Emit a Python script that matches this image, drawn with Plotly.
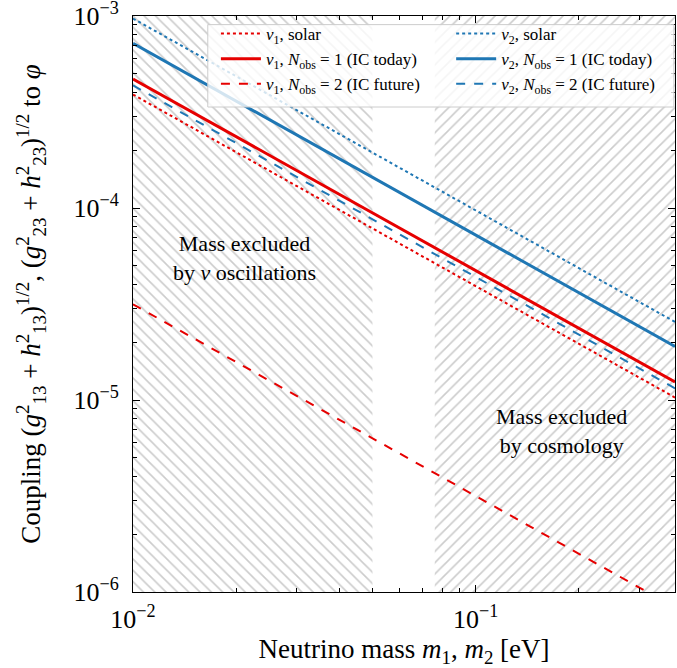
import plotly.graph_objects as go

# Data (log-log straight lines: values at the axis ends)
mass_ends = [0.01, 0.382]
nu1_solar = [3.9e-4, 1.03e-5]
nu1_ic_today = [4.7e-4, 1.24e-5]
nu1_ic_future = [3.15e-5, 8.3e-7]
nu2_solar = [9.7e-4, 2.55e-5]
nu2_ic_today = [7.2e-4, 1.9e-5]
nu2_ic_future = [4.35e-4, 1.15e-5]

# excluded regions
osc_region = [0.01, 0.05]
cosmo_region = [0.076, 0.382]
y_limits = [1e-6, 1e-3]

RED = "#e60000"
BLUE = "#1f77b4"
FONT = "Liberation Serif"

fig = go.Figure()

def hatch(xr, shape):
    fig.add_trace(go.Scatter(
        x=[xr[0], xr[1], xr[1], xr[0], xr[0]],
        y=[y_limits[0], y_limits[0], y_limits[1], y_limits[1], y_limits[0]],
        mode="lines", line=dict(width=0), fill="toself",
        fillcolor="rgba(0,0,0,0)",
        fillpattern=dict(shape=shape, fgcolor="#999999", bgcolor="white",
                         size=8, solidity=0.2),
        showlegend=False, hoverinfo="skip"))

hatch(osc_region, "\\")
hatch(cosmo_region, "/")

series = [
    ("<i>ν</i><sub>1</sub>, solar", nu1_solar, RED, "dot", 2, "legend"),
    ("<i>ν</i><sub>1</sub>, <i>N</i><sub>obs</sub> = 1 (IC today)", nu1_ic_today, RED, "solid", 3, "legend"),
    ("<i>ν</i><sub>1</sub>, <i>N</i><sub>obs</sub> = 2 (IC future)", nu1_ic_future, RED, "dash", 2, "legend"),
    ("<i>ν</i><sub>2</sub>, solar", nu2_solar, BLUE, "dot", 2, "legend2"),
    ("<i>ν</i><sub>2</sub>, <i>N</i><sub>obs</sub> = 1 (IC today)", nu2_ic_today, BLUE, "solid", 3, "legend2"),
    ("<i>ν</i><sub>2</sub>, <i>N</i><sub>obs</sub> = 2 (IC future)", nu2_ic_future, BLUE, "dash", 2, "legend2"),
]
for name, ys, col, dash, w, lg in series:
    fig.add_trace(go.Scatter(x=mass_ends, y=ys, mode="lines", name=name, legend=lg,
                             line=dict(color=col, dash=dash, width=w)))

fig.add_annotation(x=-1.674, y=-4.258, xref="x", yref="y",
                   text="Mass excluded<br>by <i>ν</i> oscillations",
                   showarrow=False, font=dict(family=FONT, size=22, color="black"))
fig.add_annotation(x=-0.748, y=-5.159, xref="x", yref="y",
                   text="Mass excluded<br>by cosmology",
                   showarrow=False, font=dict(family=FONT, size=22, color="black"))

# legend frame (semi-transparent white box spanning both legend columns)
fig.add_shape(type="rect", xref="paper", yref="paper",
              x0=0.138, x1=0.998, y0=0.842, y1=0.985,
              fillcolor="rgba(255,255,255,0.8)", line=dict(color="#cccccc", width=1),
              layer="above")

axis_common = dict(
    type="log", showgrid=False, zeroline=False, automargin=False,
    showline=True, linecolor="black", linewidth=1, mirror="allticks",
    ticks="inside", ticklen=7, tickcolor="black", tickwidth=1,
    ticklabeloverflow="allow",
    tickfont=dict(family=FONT, size=26, color="black"),
    minor=dict(ticks="inside", ticklen=4, tickcolor="black", dtick="D1", showgrid=False),
)

fig.update_xaxes(**axis_common, range=[-2, -0.418],
                 tickvals=[0.01, 0.1], ticklabelstandoff=4,
                 ticktext=["10<sup>−2</sup>", "10<sup>−1</sup>"],
                 title=dict(text="Neutrino mass <i>m</i><sub>1</sub>, <i>m</i><sub>2</sub> [eV]",
                            font=dict(family=FONT, size=27, color="black"), standoff=6))
fig.update_yaxes(**axis_common, range=[-6, -3],
                 tickvals=[1e-6, 1e-5, 1e-4, 1e-3], ticklabelstandoff=8,
                 ticktext=["10<sup>−6</sup>", "10<sup>−5</sup>", "10<sup>−4</sup>", "10<sup>−3</sup>"],
                 title=dict(text="Coupling (<i>g</i><sup>2</sup><sub>13</sub> + <i>h</i><sup>2</sup><sub>13</sub>)<sup>1/2</sup>, "
                                 "(<i>g</i><sup>2</sup><sub>23</sub> + <i>h</i><sup>2</sup><sub>23</sub>)<sup>1/2</sup> to <i>φ</i>",
                            font=dict(family=FONT, size=27, color="black"), standoff=24))

legend_common = dict(
    orientation="v", xanchor="left", yanchor="top", y=1.0,
    bgcolor="rgba(0,0,0,0)", borderwidth=0,
    font=dict(family=FONT, size=17, color="black"),
    tracegroupgap=0, itemwidth=40,
)

fig.update_layout(
    width=677, height=668,
    margin=dict(l=133, r=2, t=16, b=76),
    paper_bgcolor="white", plot_bgcolor="white",
    font=dict(family=FONT, color="black"),
    legend=dict(**legend_common, x=0.153),
    legend2=dict(**legend_common, x=0.587),
    showlegend=True,
)

fig.write_html("out.html", config={"displayModeBar": False},
               post_script="document.body.style.margin='0';document.body.style.overflow='hidden';")
